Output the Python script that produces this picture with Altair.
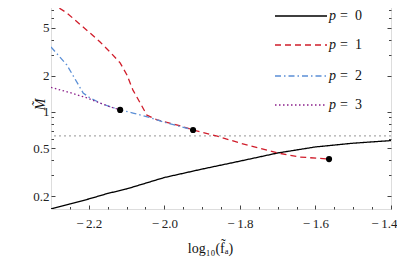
import altair as alt
import pandas as pd

# ---- data ----
p0_x = [-2.3, -2.25, -2.2, -2.15, -2.1, -2.0, -1.9, -1.8, -1.7, -1.6, -1.5, -1.4]
p0_y = [0.156, 0.172, 0.189, 0.21, 0.229, 0.285, 0.335, 0.39, 0.456, 0.512, 0.55, 0.578]

p1_x = [-2.3, -2.258, -2.2, -2.17, -2.144, -2.117, -2.099, -2.083, -2.064, -2.046,
        -2.019, -2.0, -1.96, -1.924, -1.86, -1.8, -1.7, -1.641, -1.564]
p1_y = [8.1, 6.66, 4.63, 3.82, 3.16, 2.56, 2.03, 1.52, 1.19, 0.94,
        0.86, 0.83, 0.77, 0.708, 0.63, 0.552, 0.456, 0.422, 0.406]

p2_x = [-2.3, -2.258, -2.215, -2.197, -2.168, -2.144, -2.117, -2.083, -2.04, -1.993, -1.96, -1.924]
p2_y = [3.47, 2.46, 1.44, 1.31, 1.18, 1.106, 1.04, 0.98, 0.9, 0.81, 0.76, 0.708]

p3_x = [-2.3, -2.25, -2.205, -2.168, -2.144, -2.117]
p3_y = [1.6, 1.45, 1.31, 1.18, 1.106, 1.04]

dots_x = [-2.117, -1.924, -1.564]
dots_y = [1.04, 0.708, 0.406]

threshold = [0.632]

series_labels = ["0", "1", "2", "3"]

x_major = [-2.2, -2.0, -1.8, -1.6, -1.4]
x_minor = [-2.25, -2.15, -2.1, -2.05, -1.95, -1.9, -1.85, -1.75, -1.7, -1.65, -1.55, -1.5, -1.45]
y_major = [0.2, 0.5, 1, 2, 5]
y_minor = [0.3, 0.4, 0.6, 0.7, 0.8, 0.9, 3, 4, 6, 7, 8]

# ---- styles ----
colors = ["#000000", "#d01c2a", "#5b8fd6", "#8b1f8b"]
dashes = [[1, 0], [6, 4], [6, 3, 1.5, 3], [1.5, 2.5]]
FONT = "Liberation Serif, DejaVu Serif, Times New Roman, serif"

xs = alt.Scale(domain=[-2.3, -1.4], nice=False, zero=False)
ys = alt.Scale(type="log", domain=[0.156, 8.7], nice=False)

series = [(p0_x, p0_y), (p1_x, p1_y), (p2_x, p2_y), (p3_x, p3_y)]
frames = [pd.DataFrame({"x": sx, "y": sy}) for sx, sy in series]

layers = []

# horizontal dotted reference line
layers.append(
    alt.Chart(pd.DataFrame({"y": threshold}))
    .mark_rule(color="#aaaaaa", strokeDash=[2, 3], strokeWidth=1.2)
    .encode(y=alt.Y("y:Q", scale=ys, axis=None))
)

for i, df in enumerate(frames):
    layers.append(
        alt.Chart(df)
        .mark_line(color=colors[i], strokeDash=dashes[i], strokeWidth=1.3, clip=True)
        .encode(
            x=alt.X("x:Q", scale=xs, axis=None),
            y=alt.Y("y:Q", scale=ys, axis=None),
        )
    )

layers.append(
    alt.Chart(pd.DataFrame({"x": dots_x, "y": dots_y}))
    .mark_circle(color="black", size=38, opacity=1)
    .encode(x=alt.X("x:Q", scale=xs, axis=None), y=alt.Y("y:Q", scale=ys, axis=None))
)

# ---- axes (ticks pointing inward, on all four sides) ----
base = dict(domain=False, grid=False, tickColor="#444", tickWidth=1,
            labelFont=FONT, labelFontSize=13, labelColor="#222",
            titleFont=FONT, titleFontSize=14, titleColor="#111", titleFontWeight="normal",
            labelOverlap=False)
common = dict(base, labelFlush=False)

x_label_expr = "(datum.value < 0 ? '\u2212\u2009' : '') + format(abs(datum.value), '.1f')"


def axis_layer(xaxis, yaxis):
    return (
        alt.Chart(frames[0])
        .mark_line(opacity=0)
        .encode(x=alt.X("x:Q", scale=xs, axis=xaxis), y=alt.Y("y:Q", scale=ys, axis=yaxis))
    )


layers.append(axis_layer(
    alt.Axis(orient="bottom", values=x_major, labelExpr=x_label_expr, tickSize=4, offset=-4,
             labelPadding=8, labelFlush=True, labelFlushOffset=6,
             title="log₁₀(f̃ₐ)", titlePadding=11, titleX=159, **base),
    alt.Axis(orient="left", values=y_major, format="~g", tickSize=4, offset=-4,
             labelPadding=2, title="M̃", titleFontStyle="italic", titleX=-15, titleY=105,
             titleBaseline="middle", **common),
))
layers.append(axis_layer(
    alt.Axis(orient="bottom", values=x_minor, tickSize=2.5, offset=-2.5, labels=False, title=None, **common),
    alt.Axis(orient="left", values=y_minor, tickSize=2.5, offset=-2.5, labels=False, title=None, **common),
))
layers.append(axis_layer(
    alt.Axis(orient="top", values=x_major, tickSize=4, offset=-4, labels=False, title=None, **common),
    alt.Axis(orient="right", values=y_major, tickSize=4, offset=-4, labels=False, title=None, **common),
))
layers.append(axis_layer(
    alt.Axis(orient="top", values=x_minor, tickSize=2.5, offset=-2.5, labels=False, title=None, **common),
    alt.Axis(orient="right", values=y_minor, tickSize=2.5, offset=-2.5, labels=False, title=None, **common),
))

# ---- legend drawn manually ----
row_y = [17, 46, 77, 106]
one = pd.DataFrame({"a": [0]})
for i, lab in enumerate(series_labels):
    layers.append(
        alt.Chart(one).mark_rule(color=colors[i], strokeDash=dashes[i], strokeWidth=1.3)
        .encode(x=alt.value(224), x2=alt.value(276), y=alt.value(row_y[i]))
    )
    layers.append(
        alt.Chart(one).mark_text(font=FONT, fontSize=14, fontStyle="italic", align="left",
                                 baseline="middle", color="#111")
        .encode(x=alt.value(278), y=alt.value(row_y[i]), text=alt.value("p"))
    )
    layers.append(
        alt.Chart(one).mark_text(font=FONT, fontSize=14, align="left",
                                 baseline="middle", color="#111")
        .encode(x=alt.value(289), y=alt.value(row_y[i]), text=alt.value("=\u2002" + lab))
    )

chart = (
    alt.layer(*layers)
    .resolve_axis(x="independent", y="independent")
    .properties(
        width=340,
        height=210,
        autosize=alt.AutoSizeParams(type="none"),
        padding={"left": 43, "top": -9, "right": 6, "bottom": 50},
    )
    .configure_view(stroke="#777777", strokeWidth=1)
    .configure(font=FONT)
)

chart.save("out.html", embed_options={"renderer": "svg", "actions": False})
